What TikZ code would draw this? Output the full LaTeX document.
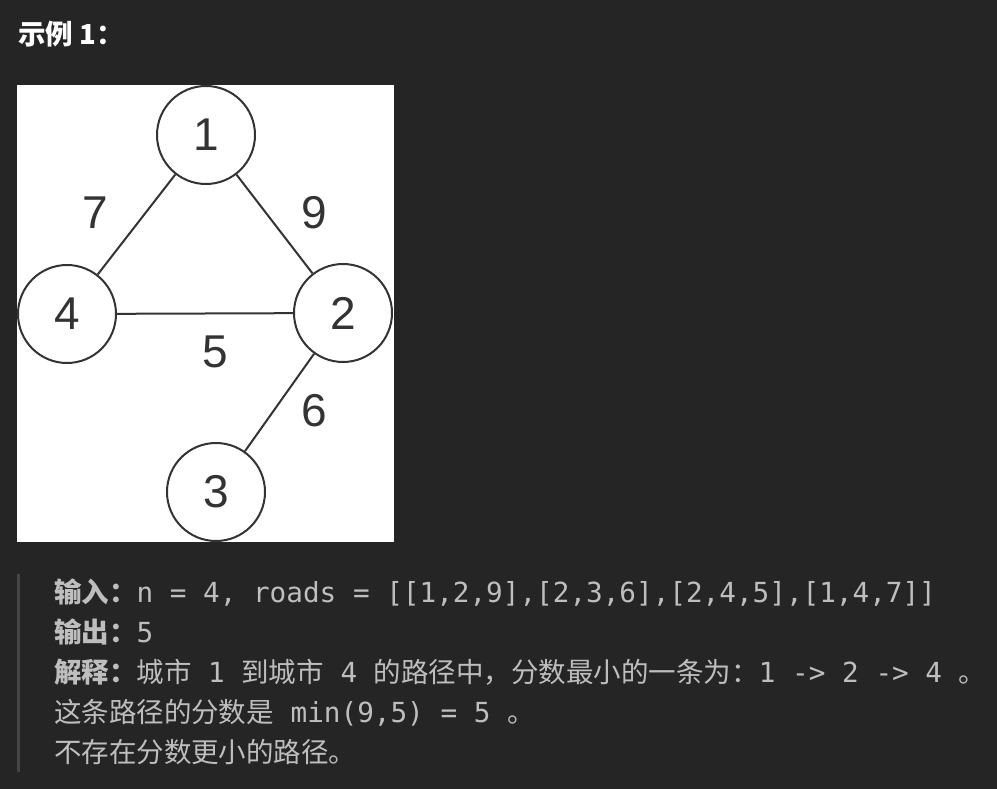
\documentclass[tikz,border=0pt]{standalone}
\usepackage{fontspec}
\setmainfont{Liberation Sans}
\newfontfamily\cjk{Noto Sans CJK SC}
\newfontfamily\mono[Scale=1.006]{DejaVu Sans Mono}
\definecolor{pagebg}{RGB}{37,37,37}
\definecolor{quotebar}{RGB}{70,70,70}
\definecolor{quotetext}{RGB}{190,190,190}
\definecolor{ink}{RGB}{51,51,51}

\begin{document}
\begin{tikzpicture}[x=1pt,y=-1pt,line width=2pt,
                    main node/.style={circle,draw=ink,fill=white,minimum size=98pt,inner sep=0pt,text=ink,font=\fontsize{46}{46}\selectfont},
                    weight/.style={inner sep=0pt,text=ink,font=\fontsize{46}{46}\selectfont},
                    quote line/.style={anchor=base west,inner sep=0pt,text=quotetext,font=\cjk\fontsize{27.5}{33}\selectfont}]

  \useasboundingbox[fill=pagebg] (0,0) rectangle (997,789);

  % heading
  \node[anchor=base west,inner sep=0pt,text=white,font=\cjk\bfseries\fontsize{27.5}{33}\selectfont] (title) at (17,45) {示例 1：};

  % white card with the graph
  \fill[white] (17,85) rectangle (394,542);

  \node[main node] (1) at (206,135) {1};
  \node[main node] (4) at (67,314) {4};
  \node[main node] (2) at (343,313) {2};
  \node[main node] (3) at (216,492) {3};

  \path[every node/.style=weight,every edge/.style={draw=ink,line width=2pt}]
    (1) edge node[xshift=-41.5pt,yshift=11.5pt] {7} (4)
        edge node[xshift=39.5pt,yshift=11pt] {9} (2)
    (4) edge node[xshift=10pt,yshift=-38.5pt] {5} (2)
    (2) edge node[xshift=34.5pt,yshift=-8.5pt] {6} (3);

  % quote block
  \fill[quotebar] (17,574) rectangle (20,772);

  \node[quote line] (input) at (53,602) {{\bfseries 输入：}{\mono n = 4, roads = [[1,2,9],[2,3,6],[2,4,5],[1,4,7]]}};
  \node[quote line] (output) at (53,642) {{\bfseries 输出：}{\mono 5}};
  \node[quote line] (explain) at (53,682) {{\bfseries 解释：}城市{\mono\ 1\ }到城市{\mono\ 4\ }的路径中，分数最小的一条为：{\mono 1 -> 2 -> 4 }。};
  \node[quote line] (score) at (53,722) {这条路径的分数是{\mono\ min(9,5) = 5 }。};
  \node[quote line] (none) at (53,762) {不存在分数更小的路径。};
\end{tikzpicture}
\end{document}
